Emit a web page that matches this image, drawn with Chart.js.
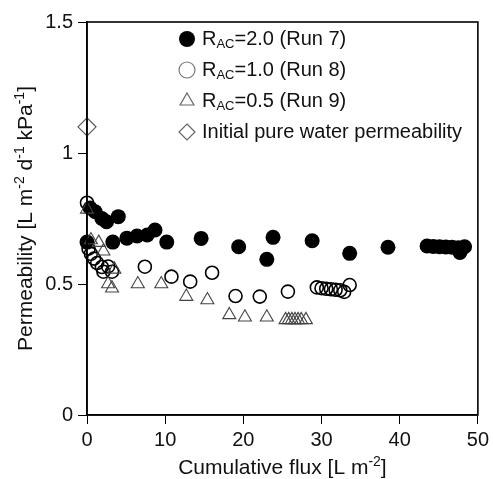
<!DOCTYPE html>
<html>
<head>
<meta charset="utf-8">
<script src="https://cdn.jsdelivr.net/npm/chart.js@4/dist/chart.umd.min.js"></script>
<style>
  html, body { margin: 0; padding: 0; background: #fff; }
  #wrap { width: 493px; height: 479px; }
</style>
</head>
<body>
<div id="wrap"><canvas id="graph" width="493" height="479"></canvas></div>
<script>
// Run 7, R_AC = 2.0 (filled circles)
var run7X = [0, 0.4, 1.05, 1.9, 2.5, 4.0, 3.3, 5.1, 6.4, 7.7, 8.7, 10.2, 14.6, 19.4, 23.0, 23.8, 28.8, 33.6, 38.5, 43.5, 44.3, 45.1, 45.9, 46.7, 47.5, 47.7, 48.3];
var run7Y = [0.66, 0.79, 0.776, 0.75, 0.738, 0.757, 0.66, 0.675, 0.683, 0.687, 0.706, 0.66, 0.674, 0.642, 0.594, 0.678, 0.665, 0.617, 0.64, 0.645, 0.643, 0.642, 0.641, 0.64, 0.638, 0.62, 0.642];
// Run 8, R_AC = 1.0 (open circles)
var run8X = [0, 0.2, 0.5, 0.9, 1.3, 1.9, 2.1, 2.7, 3.2, 7.4, 10.8, 13.2, 16.0, 19.0, 22.1, 25.7, 29.4, 30.0, 30.6, 31.2, 31.8, 32.4, 32.9, 33.6];
var run8Y = [0.81, 0.635, 0.615, 0.597, 0.58, 0.565, 0.547, 0.567, 0.547, 0.566, 0.528, 0.509, 0.543, 0.454, 0.452, 0.471, 0.487, 0.484, 0.482, 0.48, 0.478, 0.476, 0.47, 0.496];
// Run 9, R_AC = 0.5 (triangles)
var run9X = [0, 0.5, 1.5, 2.1, 3.5, 2.7, 3.2, 6.5, 9.5, 12.7, 15.4, 18.2, 20.2, 23.0, 25.4, 25.8, 26.2, 26.6, 27.0, 27.4, 28.0];
var run9Y = [0.785, 0.668, 0.658, 0.625, 0.556, 0.5, 0.484, 0.5, 0.5, 0.452, 0.439, 0.382, 0.373, 0.373, 0.363, 0.363, 0.363, 0.363, 0.363, 0.363, 0.363];
// initial pure water permeability
var pureX = [0];
var pureY = [1.10];

var xTicks = [0, 10, 20, 30, 40, 50];
var yTickLabels = ["0", "0.5", "1", "1.5"];

var legendRows = [
    [{t: "R"}, {t: "AC", sub: true}, {t: "=2.0 (Run 7)"}],
    [{t: "R"}, {t: "AC", sub: true}, {t: "=1.0 (Run 8)"}],
    [{t: "R"}, {t: "AC", sub: true}, {t: "=0.5 (Run 9)"}],
    [{t: "Initial pure water permeability"}]
];
var xTitle = [{t: "Cumulative flux [L m"}, {t: "-2", sup: true}, {t: "]"}];
var yTitle = [{t: "Permeability [L m"}, {t: "-2", sup: true}, {t: " d"}, {t: "-1", sup: true}, {t: " kPa"}, {t: "-1", sup: true}, {t: "]"}];

const FONT = "'Liberation Sans', Arial, sans-serif";

function toPts(xs, ys) {
    return xs.map((x, i) => ({x: x, y: ys[i]}));
}

// width of a run of text pieces, with small sub/superscripts
function richWidth(ctx, parts, size) {
    var w = 0;
    parts.forEach(p => {
        ctx.font = ((p.sub || p.sup) ? Math.round(size * 0.65) : size) + "px " + FONT;
        w += ctx.measureText(p.t).width;
    });
    return w;
}

function drawRich(ctx, parts, x, y, size) {
    parts.forEach(p => {
        var s = (p.sub || p.sup) ? Math.round(size * 0.65) : size;
        var dy = p.sub ? size * 0.28 : (p.sup ? -size * 0.38 : 0);
        ctx.font = s + "px " + FONT;
        ctx.fillText(p.t, x, y + dy);
        x += ctx.measureText(p.t).width;
    });
}

function marker(ctx, kind, x, y, r, color) {
    ctx.save();
    ctx.strokeStyle = color;
    ctx.fillStyle = color;
    ctx.lineWidth = 1.2;
    ctx.beginPath();
    if (kind == "disc" || kind == "ring") {
        ctx.arc(x, y, r, 0, Math.PI * 2);
    } else if (kind == "tri") {
        for (var k = 0; k < 3; k++) {
            var a = k * 2 * Math.PI / 3;
            ctx.lineTo(x + Math.sin(a) * r, y - Math.cos(a) * r);
        }
        ctx.closePath();
    } else {
        ctx.moveTo(x, y - r); ctx.lineTo(x + r, y); ctx.lineTo(x, y + r); ctx.lineTo(x - r, y); ctx.closePath();
    }
    if (kind == "disc") ctx.fill(); else ctx.stroke();
    ctx.restore();
}

const extras = {
    id: "extras",
    afterDraw(chart) {
        var ctx = chart.ctx, a = chart.chartArea;
        ctx.save();
        // frame
        ctx.strokeStyle = "#000";
        ctx.lineWidth = 1.6;
        ctx.strokeRect(a.left, a.top, a.right - a.left, a.bottom - a.top);

        // legend
        ctx.textBaseline = "middle";
        var kinds = ["disc", "ring", "tri", "dia"];
        var cols = ["#000", "#777", "#666", "#666"];
        legendRows.forEach((row, i) => {
            var y = 39 + i * 31;
            marker(ctx, kinds[i], 187, y, 8, cols[i]);
            ctx.fillStyle = "#111";
            drawRich(ctx, row, 202, y, 20);
        });

        // axis titles
        ctx.textBaseline = "alphabetic";
        var w = richWidth(ctx, xTitle, 21);
        drawRich(ctx, xTitle, (a.left + a.right) / 2 - w / 2, 474, 21);
        ctx.translate(32, (a.top + a.bottom) / 2);
        ctx.rotate(-Math.PI / 2);
        w = richWidth(ctx, yTitle, 21);
        drawRich(ctx, yTitle, -w / 2, 0, 21);
        ctx.restore();
    }
};

var graph = new Chart("graph", {
    type: "scatter",
    data: {
        datasets: [{
            data: toPts(pureX, pureY),
            pointStyle: "rectRot",
            pointRadius: 9,
            borderColor: "#555",
            borderWidth: 1.2,
            backgroundColor: "rgba(0,0,0,0)",
            clip: false,
            order: 1
        }, {
            data: toPts(run9X, run9Y),
            pointStyle: "triangle",
            pointRadius: 7.5,
            borderColor: "#444",
            borderWidth: 1.1,
            backgroundColor: "rgba(0,0,0,0)",
            clip: false,
            order: 2
        }, {
            data: toPts(run8X, run8Y),
            pointStyle: "circle",
            pointRadius: 6.5,
            borderColor: "#000",
            borderWidth: 1.6,
            backgroundColor: "rgba(0,0,0,0)",
            clip: false,
            order: 3
        }, {
            data: toPts(run7X, run7Y),
            pointStyle: "circle",
            pointRadius: 7.5,
            borderColor: "#000",
            borderWidth: 0,
            backgroundColor: "#000",
            clip: false,
            order: 4
        }]
    },
    options: {
        responsive: false,
        animation: false,
        events: [],
        layout: {padding: {top: 22, right: 12, left: 0, bottom: 0}},
        plugins: {
            legend: {display: false},
            tooltip: {enabled: false}
        },
        scales: {
            x: {
                type: "linear",
                min: 0,
                max: 50,
                afterFit: s => { s.height = 64; },
                afterBuildTicks: s => { s.ticks = xTicks.map(v => ({value: v})); },
                grid: {drawOnChartArea: false, drawTicks: true, tickLength: 9, color: "#000", lineWidth: 1},
                border: {color: "#000", width: 1.6},
                ticks: {color: "#111", padding: 4, font: {family: FONT, size: 20}, maxRotation: 0}
            },
            y: {
                type: "linear",
                min: 0,
                max: 1.5,
                afterFit: s => { s.width = 87; },
                afterBuildTicks: s => { s.ticks = yTickLabels.map(v => ({value: parseFloat(v)})); },
                grid: {drawOnChartArea: false, drawTicks: true, tickLength: 9, color: "#000", lineWidth: 1},
                border: {color: "#000", width: 1.6},
                ticks: {
                    color: "#111", padding: 5, font: {family: FONT, size: 20},
                    callback: (v, i) => yTickLabels[i]
                }
            }
        }
    },
    plugins: [extras]
});
</script>
</body>
</html>
